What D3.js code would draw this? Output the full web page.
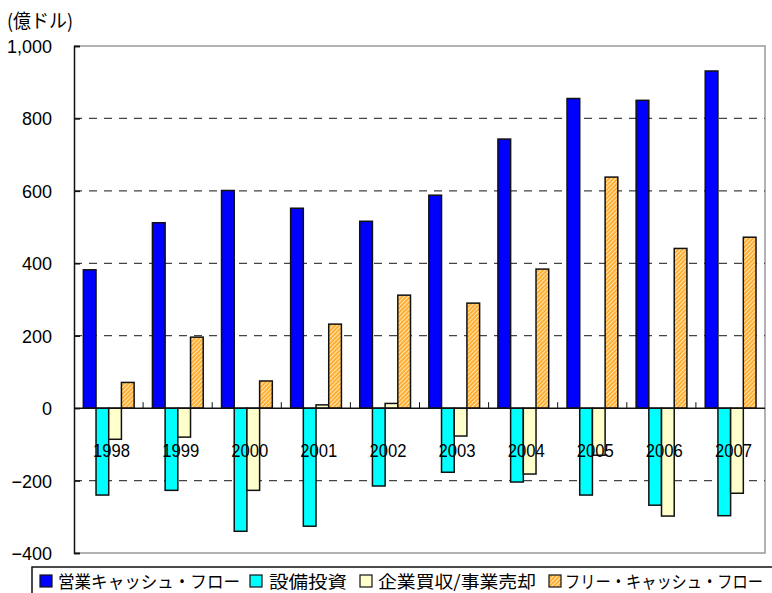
<!DOCTYPE html>
<html>
<head>
<meta charset="utf-8">
<script src="https://cdn.jsdelivr.net/npm/d3@7"></script>
<style>
  body { margin: 0; background: #fff; }
  svg { display: block; }
</style>
</head>
<body>
<script>
  // data (億ドル)
  var years = ["1998", "1999", "2000", "2001", "2002", "2003", "2004", "2005", "2006", "2007"];
  var eigyoCF = [382, 512, 601, 552, 516, 588, 743, 855, 850, 931];
  var setsubi = [-240, -227, -340, -326, -215, -177, -204, -240, -268, -297];
  var kigyo = [-86, -80, -227, 9, 13, -77, -182, -130, -298, -235];
  var freeCF = [71, 196, 75, 232, 312, 290, 384, 638, 441, 472];
  var seriesNames = ["営業キャッシュ・フロー", "設備投資", "企業買収/事業売却", "フリー・キャッシュ・フロー"];
  var yTicks = [-400, -200, 0, 200, 400, 600, 800, 1000];

  var series = [eigyoCF, setsubi, kigyo, freeCF];
  var fills = ["#0000ff", "#00ffff", "#ffffcc", "url(#hatch)"];

  var width = 772, height = 593;
  // note: "top" is a reserved window prop, so use plot* names
  var plotL = 74, plotR = 765, plotT = 46, plotB = 553;

  var svg = d3.select("body").append("svg")
    .attr("width", width)
    .attr("height", height);

  // orange hatch
  var pat = svg.append("defs").append("pattern")
    .attr("id", "hatch")
    .attr("patternUnits", "userSpaceOnUse")
    .attr("width", 3).attr("height", 3)
    .attr("patternTransform", "rotate(-45)");
  pat.append("rect").attr("width", 3).attr("height", 3).attr("fill", "#ffa826");
  pat.append("rect").attr("width", 3).attr("height", 1.2).attr("fill", "#ffe6b0");

  var x = d3.scaleBand().domain(years).range([plotL, plotR]);
  var x1 = d3.scaleBand().domain(d3.range(4))
    .range([x.bandwidth() * 0.135, x.bandwidth() * 0.87]);
  var y = d3.scaleLinear().domain([-400, 1000]).range([plotB, plotT]);

  // plot frame
  svg.append("path")
    .attr("d", "M" + plotL + "," + plotT + "H" + plotR + "V" + plotB + "H" + plotL)
    .attr("fill", "none").attr("stroke", "#999").attr("stroke-width", 1.5);

  // dashed grid
  svg.selectAll(".grid")
    .data(yTicks.filter(function(d) { return d != 0 && d != 1000 && d != -400; }))
    .enter().append("line")
    .attr("x1", plotL).attr("x2", plotR)
    .attr("y1", function(d) { return y(d); })
    .attr("y2", function(d) { return y(d); })
    .attr("stroke", "#444").attr("stroke-width", 1.2)
    .attr("stroke-dasharray", "8,7");

  // bars
  series.forEach(function(vals, i) {
    svg.append("g").selectAll("rect")
      .data(vals)
      .enter().append("rect")
      .attr("x", function(d, j) { return x(years[j]) + x1(i); })
      .attr("width", x1.bandwidth())
      .attr("y", function(d) { return y(Math.max(0, d)); })
      .attr("height", function(d) { return Math.abs(y(d) - y(0)); })
      .attr("fill", fills[i])
      .attr("stroke", "#111").attr("stroke-width", 1.5);
  });

  // zero line with inner ticks
  svg.append("line")
    .attr("x1", plotL).attr("x2", plotR)
    .attr("y1", y(0)).attr("y2", y(0))
    .attr("stroke", "#111").attr("stroke-width", 1.5);
  svg.selectAll(".xt")
    .data(years.slice(1))
    .enter().append("line")
    .attr("x1", function(d) { return x(d); })
    .attr("x2", function(d) { return x(d); })
    .attr("y1", y(0)).attr("y2", y(0) - 6)
    .attr("stroke", "#111").attr("stroke-width", 1);

  // year labels (drawn over bars)
  svg.selectAll(".yr")
    .data(years)
    .enter().append("text")
    .attr("x", function(d) { return x(d) + x.bandwidth() / 2 + 3; })
    .attr("y", 457)
    .attr("text-anchor", "middle")
    .attr("font-family", "Liberation Sans, Arial, sans-serif")
    .attr("font-size", 17.5)
    .attr("textLength", 37)
    .attr("lengthAdjust", "spacingAndGlyphs")
    .text(function(d) { return d; });

  // y axis
  var yAxis = d3.axisLeft(y).tickValues(yTicks).tickSize(-6).tickPadding(22)
    .tickFormat(d3.format(","));
  var ga = svg.append("g").attr("transform", "translate(" + plotL + ",0)").call(yAxis);
  ga.select(".domain").attr("stroke", "#111").attr("stroke-width", 1.5);
  ga.selectAll(".tick line").attr("stroke", "#111").attr("stroke-width", 1.5);
  ga.selectAll("text")
    .attr("font-family", "Liberation Sans, Arial, sans-serif")
    .attr("font-size", 18)
    .attr("fill", "#000")
    .attr("dy", "0.36em");
  ga.selectAll(".tick text").filter(function(d) { return d < 0; })
    .text(function(d) { return "\u2212" + Math.abs(d); });

  // unit label
  svg.append("text")
    .attr("x", 7).attr("y", 28)
    .attr("font-family", "Noto Sans CJK JP, sans-serif")
    .attr("font-size", 19)
    .attr("textLength", 66)
    .attr("lengthAdjust", "spacingAndGlyphs")
    .text("(億ドル)");

  // legend
  var lg = svg.append("g");
  lg.append("rect")
    .attr("x", 32).attr("y", 567).attr("width", 760).attr("height", 40)
    .attr("fill", "#fff").attr("stroke", "#111").attr("stroke-width", 1.5);
  var boxX = [40, 250, 360, 549];
  var textX = [58, 269, 378, 565];
  var textW = [182, 78, 158, 198];
  seriesNames.forEach(function(name, i) {
    lg.append("rect")
      .attr("x", boxX[i]).attr("y", 575).attr("width", 12).attr("height", 12)
      .attr("fill", fills[i]).attr("stroke", "#111").attr("stroke-width", 1.2);
    lg.append("text")
      .attr("x", textX[i]).attr("y", 588)
      .attr("font-family", "Noto Sans CJK JP, sans-serif")
      .attr("font-size", 17.5)
      .attr("textLength", textW[i])
      .attr("lengthAdjust", "spacingAndGlyphs")
      .text(name);
  });
</script>
</body>
</html>
